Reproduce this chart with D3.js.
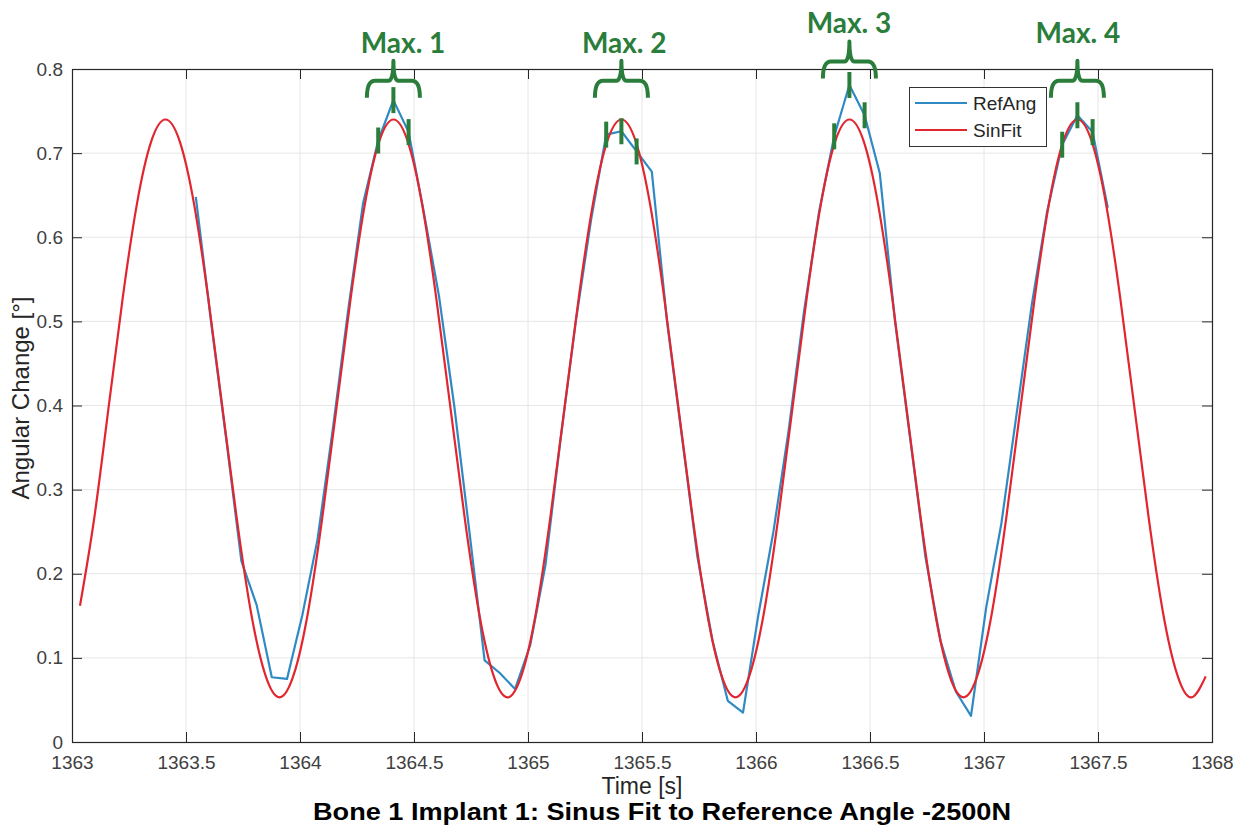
<!DOCTYPE html>
<html>
<head>
<meta charset="utf-8">
<script src="https://cdn.jsdelivr.net/npm/d3@7"></script>
<style>
  body { margin: 0; background: #fff; }
  text { font-family: "Liberation Sans", Arial, sans-serif; }
</style>
</head>
<body>
<svg id="chart" width="1241" height="834"></svg>
<script>
// tick values
const xTicks = [1363, 1363.5, 1364, 1364.5, 1365, 1365.5, 1366, 1366.5, 1367, 1367.5, 1368];
const yTicks = [0, 0.1, 0.2, 0.3, 0.4, 0.5, 0.6, 0.7, 0.8];

// fitted sine, sampled every 1/16 s from 1363.035 s
const sinFitStart = 1363.035;
const sinFitStep = 0.0625;
const sinFitValues = [
  0.162, 0.266, 0.397, 0.528, 0.640, 0.714, 0.740, 0.714, 0.640, 0.528, 0.397, 0.266, 0.154, 0.080, 0.053, 0.080,
  0.154, 0.266, 0.397, 0.528, 0.640, 0.714, 0.740, 0.714, 0.640, 0.528, 0.397, 0.266, 0.154, 0.080, 0.053, 0.080,
  0.154, 0.266, 0.397, 0.528, 0.640, 0.714, 0.740, 0.714, 0.640, 0.528, 0.397, 0.266, 0.154, 0.080, 0.053, 0.080,
  0.154, 0.266, 0.397, 0.528, 0.640, 0.714, 0.740, 0.714, 0.640, 0.528, 0.397, 0.266, 0.154, 0.080, 0.053, 0.080,
  0.154, 0.266, 0.397, 0.528, 0.640, 0.714, 0.740, 0.714, 0.640, 0.528, 0.397, 0.266, 0.154, 0.080, 0.053, 0.078
];

// measured reference angle, 15 samples per second from 1363.543 s
const refAngStart = 1363.543;
const refAngStep = 1 / 15;
const refAngValues = [
  0.648, 0.500, 0.360, 0.215, 0.163, 0.077, 0.075, 0.150, 0.240, 0.370, 0.510, 0.640, 0.715, 0.763, 0.725,
  0.630, 0.530, 0.400, 0.250, 0.097, 0.082, 0.063, 0.115, 0.210, 0.360, 0.500, 0.620, 0.722, 0.726, 0.702,
  0.678, 0.500, 0.360, 0.220, 0.120, 0.049, 0.035, 0.150, 0.250, 0.370, 0.510, 0.630, 0.720, 0.781, 0.745,
  0.676, 0.500, 0.360, 0.220, 0.120, 0.060, 0.031, 0.160, 0.260, 0.390, 0.520, 0.630, 0.710, 0.745, 0.725,
  0.635
];

// peak annotations: sample index of the peak, brace height and label position
const maxLabels = ["Max. 1", "Max. 2", "Max. 3", "Max. 4"];
const maxPeakIndex = [13, 28, 43, 58];
const maxBraceLevel = [0.786, 0.786, 0.809, 0.786];
const maxLabelTime = [1364.452, 1365.422, 1366.408, 1367.412];
const maxLabelLevel = [0.831, 0.831, 0.855, 0.843];

const sinFit = sinFitValues.map((v, i) => ({ t: sinFitStart + i * sinFitStep, v: v }));
const refAng = refAngValues.map((v, i) => ({ t: refAngStart + i * refAngStep, v: v }));

const svg = d3.select("#chart");
svg.append("rect").attr("width", 1241).attr("height", 834).attr("fill", "#fff");

const x = d3.scaleLinear().domain([1363, 1368]).range([72, 1212]);
const y = d3.scaleLinear().domain([0, 0.8]).range([742, 69]);
const [x0, x1] = x.range();
const [y0, y1] = y.range();

// grid
const grid = svg.append("g").attr("class", "grid");
grid.selectAll("line.gx").data(xTicks.slice(1, -1)).enter().append("line")
    .attr("x1", d => x(d)).attr("x2", d => x(d))
    .attr("y1", y1).attr("y2", y0)
    .attr("stroke", "#e6e6e6").attr("stroke-width", 1);
grid.selectAll("line.gy").data(yTicks.slice(1, -1)).enter().append("line")
    .attr("x1", x0).attr("x2", x1)
    .attr("y1", d => y(d)).attr("y2", d => y(d))
    .attr("stroke", "#e6e6e6").attr("stroke-width", 1);

// axes, ticks pointing inwards on all four sides
function styleAxis(g) {
  g.select(".domain").remove();
  g.selectAll(".tick line").attr("stroke", "#262626");
  g.selectAll(".tick text").attr("fill", "#404040").style("font-size", "19px");
}

svg.append("g")
    .attr("transform", "translate(0," + y0 + ")")
    .call(d3.axisBottom(x).tickValues(xTicks).tickFormat(d => String(d))
      .tickSizeInner(-10).tickSizeOuter(0).tickPadding(14))
    .call(styleAxis);
svg.append("g")
    .attr("transform", "translate(0," + y1 + ")")
    .call(d3.axisTop(x).tickValues(xTicks).tickFormat("").tickSizeInner(-10).tickSizeOuter(0))
    .call(styleAxis);
svg.append("g")
    .attr("transform", "translate(" + x0 + ",0)")
    .call(d3.axisLeft(y).tickValues(yTicks).tickFormat(d => String(d))
      .tickSizeInner(-10).tickSizeOuter(0).tickPadding(9))
    .call(styleAxis);
svg.append("g")
    .attr("transform", "translate(" + x1 + ",0)")
    .call(d3.axisRight(y).tickValues(yTicks).tickFormat("").tickSizeInner(-10).tickSizeOuter(0))
    .call(styleAxis);

svg.append("rect")
    .attr("x", x0 + 0.5).attr("y", y1 + 0.5)
    .attr("width", x1 - x0).attr("height", y0 - y1)
    .attr("fill", "none").attr("stroke", "#262626").attr("stroke-width", 1.2);

// series
const sinLine = d3.line().x(d => x(d.t)).y(d => y(d.v)).curve(d3.curveNatural);
const refLine = d3.line().x(d => x(d.t)).y(d => y(d.v));

svg.append("path").datum(refAng)
    .attr("d", refLine)
    .attr("fill", "none").attr("stroke", "#2f8ac4").attr("stroke-width", 2.2)
    .attr("stroke-linejoin", "round");
svg.append("path").datum(sinFit)
    .attr("d", sinLine)
    .attr("fill", "none").attr("stroke", "#e2262f").attr("stroke-width", 2.2);

// legend
const legend = svg.append("g");
legend.append("rect")
    .attr("x", 909.5).attr("y", 87.5).attr("width", 137).attr("height", 59)
    .attr("fill", "#fff").attr("stroke", "#333").attr("stroke-width", 1);
[["RefAng", "#2f8ac4", 103], ["SinFit", "#e2262f", 130]].forEach(([name, color, ly]) => {
  legend.append("line")
      .attr("x1", 915).attr("x2", 967).attr("y1", ly).attr("y2", ly)
      .attr("stroke", color).attr("stroke-width", 2.2);
  legend.append("text")
      .attr("x", 973).attr("y", ly + 7)
      .attr("fill", "#262626").style("font-size", "19px")
      .text(name);
});

// peak annotations: curly brace above, marks on the three samples around each peak
const green = "#2a7d3a";
const ann = svg.append("g");
maxLabels.forEach((label, i) => {
  const k = maxPeakIndex[i];
  const cx = x(refAng[k].t);
  const by = y(maxBraceLevel[i]);
  const w = 26.5;
  const brace = d3.path();
  brace.moveTo(cx - w, by + 17);
  brace.quadraticCurveTo(cx - w, by, cx - w + 8, by);
  brace.lineTo(cx - 5, by);
  brace.quadraticCurveTo(cx, by, cx, by - 20);
  brace.quadraticCurveTo(cx, by, cx + 5, by);
  brace.lineTo(cx + w - 8, by);
  brace.quadraticCurveTo(cx + w, by, cx + w, by + 17);
  ann.append("path")
      .attr("d", brace.toString())
      .attr("fill", "none").attr("stroke", green).attr("stroke-width", 4)
      .attr("stroke-linejoin", "round");

  [k - 1, k, k + 1].forEach(j => {
    const px = x(refAng[j].t), py = y(refAng[j].v);
    ann.append("line")
        .attr("x1", px).attr("x2", px)
        .attr("y1", py - 13).attr("y2", py + 13)
        .attr("stroke", green).attr("stroke-width", 4);
  });

  ann.append("text")
      .attr("x", x(maxLabelTime[i])).attr("y", y(maxLabelLevel[i]) + 10)
      .attr("text-anchor", "middle")
      .attr("fill", green)
      .style("font-family", "Lato, 'Open Sans', sans-serif")
      .style("font-weight", 700).style("font-size", "28px")
      .text(label);
});

// axis labels and title
svg.append("text")
    .attr("x", (x0 + x1) / 2).attr("y", 794)
    .attr("text-anchor", "middle").attr("fill", "#262626")
    .style("font-size", "23px")
    .text("Time [s]");
svg.append("text")
    .attr("transform", "translate(29,398) rotate(-90)")
    .attr("text-anchor", "middle").attr("fill", "#262626")
    .style("font-size", "24px")
    .text("Angular Change [°]");
svg.append("text")
    .attr("x", 662).attr("y", 820)
    .attr("text-anchor", "middle").attr("fill", "#000")
    .attr("textLength", 698).attr("lengthAdjust", "spacingAndGlyphs")
    .style("font-size", "24px").style("font-weight", "bold")
    .text("Bone 1 Implant 1: Sinus Fit to Reference Angle -2500N");
</script>
</body>
</html>
